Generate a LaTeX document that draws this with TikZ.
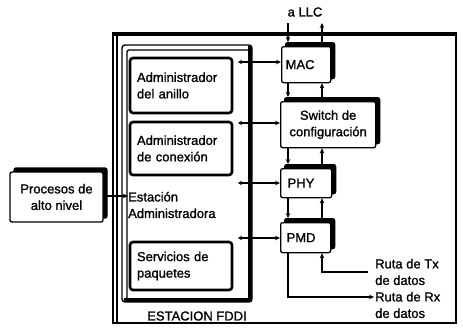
\documentclass[tikz,border=0pt]{standalone}
\usepackage{fontspec}
\setmainfont{Liberation Sans}[FakeBold=1.2]
\usetikzlibrary{shadows,arrows.meta,calc}
\begin{document}
\begin{tikzpicture}[x=1pt,y=-1pt,
  every node/.style={font=\fontsize{13}{16.5}\selectfont},
  rbox/.style={draw, fill=white, line width=1.3pt, rounded corners=2pt,
    general shadow={shadow xshift=4pt, shadow yshift=4pt, fill=black, draw=black, line width=1.3pt, rounded corners=3pt}},
  lbox/.style={draw, fill=white, line width=2.6pt, rounded corners=3pt, align=left,
    text width=88pt, minimum width=102pt, inner xsep=6pt},
  arr/.style={-{Stealth[length=5pt,width=4.5pt]}, line width=1.1pt},
  darr/.style={{Stealth[length=4pt,width=4.5pt]}-{Stealth[length=5pt,width=4.5pt]}, line width=1.1pt}]
\useasboundingbox (0,0) rectangle (463,327);

% outer frame ESTACION FDDI
\draw[line width=1.4pt] (113,33) rectangle (456,323);
\draw[line width=1.4pt] (117,36) -- (117,323);
\draw[line width=3.5pt] (113,34.5) -- (456,34.5);
\node (fddi) at (197,316) {ESTACION FDDI};

% inner frame (Estacion Administradora)
\draw[line width=1.4pt, rounded corners=3pt] (122,45) rectangle (252,302);
\draw[line width=1.3pt, rounded corners=2pt] (127,298) -- (127,50) -- (248,50);
\draw[line width=4.5pt] (250,46) -- (250,300) -- (124,300);

% left boxes
\node[lbox, minimum height=55pt] (ring) at (181,85.5) {Administrador\\del anillo};
\node[lbox, minimum height=53pt] (conn) at (181,148.5) {Administrador\\de conexión};
\node[lbox, minimum height=48pt] (serv) at (181,266) {Servicios de\\paquetes};
\node[anchor=west, align=left, inner sep=3pt] (est) at (125,205) {Estación\\Administradora};

% procesos
\node[rbox, minimum width=93pt, minimum height=50pt, align=center] (proc) at (56.5,197) {Procesos de\\alto nivel};
\coordinate (estin) at (128,196);
\draw[arr] (proc.east |- estin) -- (estin);

% right column
\node[rbox, anchor=north west, minimum height=36pt, text width=41pt, inner xsep=4pt, align=left] (mac) at (281,46) {MAC};
\node[rbox, anchor=north west, minimum width=95pt, minimum height=46pt, align=center] (sw) at (280,101) {Switch de\\configuración};
\node[rbox, anchor=north west, minimum height=29pt, text width=37pt, inner xsep=7pt, align=left] (phy) at (280,168) {PHY};
\node[rbox, anchor=north west, minimum height=30pt, text width=38pt, inner xsep=6pt, align=left] (pmd) at (280,222) {PMD};

\coordinate (xl) at (288,0);
\coordinate (xr) at (322,0);

% LLC
\node (llc) at (305,12) {a LLC};
\coordinate (llcA) at (288,23);
\coordinate (llcB) at (322,23);
\draw[arr] (llcA) -- ($(mac.north -| llcA)+(0,-4)$);
\draw[arr] ($(mac.north -| llcB)+(0,-4)$) -- (llcB);

% vertical links
\draw[arr] (mac.south -| xl) -- ($(sw.north -| xl)+(0,-4)$);
\draw[arr] ($(sw.north -| xr)+(0,-4)$) -- (mac.south -| xr);
\draw[arr] (sw.south -| xl) -- ($(phy.north -| xl)+(0,-4)$);
\draw[arr] ($(phy.north -| xr)+(0,-4)$) -- (sw.south -| xr);
\draw[arr] (phy.south -| xl) -- ($(pmd.north -| xl)+(0,-4)$);
\draw[arr] ($(pmd.north -| xr)+(0,-4)$) -- (phy.south -| xr);

% horizontal links from station management
\coordinate (h1) at (238,62);
\coordinate (h2) at (238,123);
\coordinate (h3) at (238,183);
\coordinate (h4) at (238,238);
\draw[darr] (h1) -- (h1 -| mac.west);
\draw[darr] (h2) -- (h2 -| sw.west);
\draw[darr] (h3) -- (h3 -| phy.west);
\draw[darr] (h4) -- (h4 -| pmd.west);

% data paths
\node[anchor=west, align=left, inner sep=2pt] (tx) at (373,272) {Ruta de Tx\\de datos};
\node[anchor=west, align=left, inner sep=2pt] (rx) at (373,305) {Ruta de Rx\\de datos};
\coordinate (txa) at (368,272);
\coordinate (rxa) at (374,297);
\draw[arr] (txa) -| (pmd.south -| xr);
\draw[arr] (pmd.south -| xl) |- (rxa);
\end{tikzpicture}
\end{document}
